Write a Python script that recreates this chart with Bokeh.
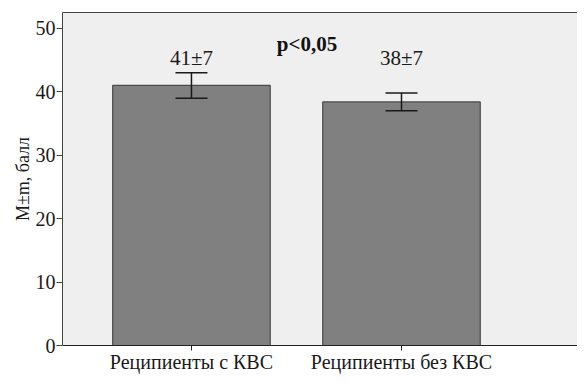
from bokeh.plotting import figure
from bokeh.models import Range1d, FixedTicker, LinearAxis, ColumnDataSource, Whisker, TeeHead, Label
from bokeh.embed import file_html
from bokeh.resources import INLINE
from bokeh.core.properties import value

categories = ["Реципиенты с КВС", "Реципиенты без КВС"]
means = [41.0, 38.4]
sems = [2.0, 1.4]
bar_labels = ["41±7", "38±7"]
p_text = "p<0,05"
y_label = "M±m, балл"

xs = [1, 2]
FONT = "serif"

p = figure(width=577, height=375, output_backend="svg", toolbar_location=None,
           x_range=Range1d(0.386, 2.838), y_range=Range1d(0, 52.5),
           min_border_left=62, min_border_right=0, min_border_top=12, min_border_bottom=25)
p.border_fill_color = "white"
p.background_fill_color = "#efefef"
p.outline_line_color = None
p.grid.visible = False

src = ColumnDataSource(dict(x=xs, top=means, lower=[m - s for m, s in zip(means, sems)],
                            upper=[m + s for m, s in zip(means, sems)], lab=bar_labels))
p.vbar(x="x", top="top", width=0.75, bottom=0, source=src,
       fill_color="#808080", line_color="#4a4a4a", line_width=1.2)

w = Whisker(base="x", lower="lower", upper="upper", source=src, level="overlay",
            line_color="#1a1a1a", line_width=1.5,
            upper_head=TeeHead(size=32, line_color="#1a1a1a", line_width=1.5),
            lower_head=TeeHead(size=32, line_color="#1a1a1a", line_width=1.5))
p.add_layout(w)

p.text(x="x", y=45.3, text="lab", source=src, text_font=value(FONT), text_font_size="21px",
       text_align="center", text_baseline="alphabetic", text_color="#1a1a1a")
p.add_layout(Label(x=1.55, y=47.6, text=p_text, text_font=FONT, text_font_size="21px",
                   text_font_style="bold", text_align="center", text_baseline="alphabetic",
                   text_color="#111111"))

# y axis
ya = p.yaxis[0]
ya.ticker = FixedTicker(ticks=[0, 10, 20, 30, 40, 50])
ya.axis_label = y_label
ya.axis_label_text_font = FONT
ya.axis_label_text_font_size = "18px"
ya.axis_label_text_font_style = "normal"
ya.axis_label_text_color = "#1a1a1a"
ya.axis_label_standoff = 0
ya.major_label_text_font = FONT
ya.major_label_text_font_size = "20px"
ya.major_label_text_color = "#1a1a1a"
ya.major_label_standoff = 1
ya.major_tick_out = 6
ya.major_tick_in = 0
ya.minor_tick_line_color = None
ya.axis_line_color = "#444444"
ya.major_tick_line_color = "#444444"

xa = p.xaxis[0]
xa.ticker = FixedTicker(ticks=xs)
xa.major_label_overrides = {x: c for x, c in zip(xs, categories)}
xa.major_label_text_font = FONT
xa.major_label_text_font_size = "20px"
xa.major_label_text_color = "#1a1a1a"
xa.major_label_standoff = 0
xa.major_tick_out = 5
xa.major_tick_in = 0
xa.minor_tick_line_color = None
xa.axis_line_color = "#222222"
xa.major_tick_line_color = "#222222"

top = LinearAxis(ticker=FixedTicker(ticks=[]), axis_line_color="#444444",
                 major_tick_line_color=None, minor_tick_line_color=None,
                 major_label_text_font_size="0px")
p.add_layout(top, "above")

open("out.html", "w").write(file_html(p, INLINE))
